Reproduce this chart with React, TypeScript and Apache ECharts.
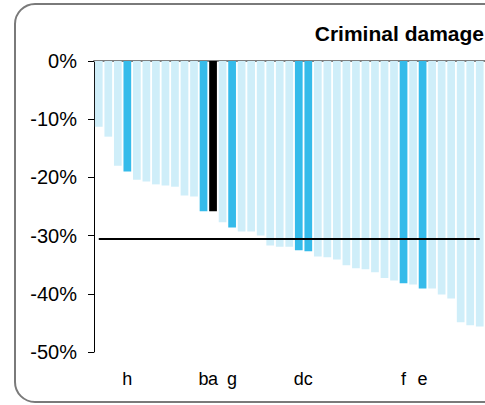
import React, { useEffect, useRef } from "react";
import * as echarts from "echarts";

const labels = ["", "", "", "h", "", "", "", "", "", "", "", "b", "a", "", "g", "", "", "", "", "", "", "d", "c", "", "", "", "", "", "", "", "", "", "f", "", "e", "", "", "", "", "", ""];
const values = [-11.3, -13.0, -18.0, -19.0, -20.4, -20.7, -21.2, -21.4, -21.6, -23.1, -23.3, -25.8, -25.8, -27.7, -28.6, -29.3, -29.3, -30.0, -31.7, -31.9, -31.9, -32.5, -32.7, -33.6, -33.7, -34.1, -35.1, -35.6, -35.8, -36.3, -37.3, -37.7, -38.2, -38.4, -39.1, -39.1, -40.1, -40.8, -44.9, -45.4, -45.6];
const highlighted = ["h", "b", "g", "d", "c", "f", "e"];
const emphasised = ["a"];
const average = -30.6;
const yTicks = [0, -10, -20, -30, -40, -50];
const title = "Criminal damage";

const FONT = "'Liberation Sans', Arial, sans-serif";

export default function App() {
  const ref = useRef<HTMLDivElement>(null);
  useEffect(() => {
    document.body.style.margin = "0";
    const chart = echarts.init(ref.current!, null, { renderer: "svg" });
    const data = values.map((v, i) => {
      const l = labels[i];
      let color = "#CFEEF9";
      if (highlighted.includes(l)) color = "#35BBEA";
      if (emphasised.includes(l)) color = "#000000";
      return { value: v, itemStyle: { color } };
    });
    chart.setOption({
      animation: false,
      graphic: [
        {
          type: "rect",
          shape: { x: 15, y: 4, width: 488, height: 398, r: 20 },
          style: { fill: "none", stroke: "#7a7a7a", lineWidth: 2 },
          z: -1,
        },
        {
          type: "text",
          right: 1,
          top: 23,
          style: {
            text: title,
            font: `bold 21px ${FONT}`,
            fill: "#000",
          },
        },
      ],
      grid: { left: 94, right: 0.5, top: 61, bottom: 53, containLabel: false },
      xAxis: [
        {
          type: "category",
          data: labels,
          position: "bottom",
          axisLine: { show: false },
          axisTick: { show: false },
          axisLabel: {
            interval: 0,
            margin: 18,
            color: "#000",
            fontSize: 18,
            fontFamily: FONT,
          },
        },
        {
          type: "category",
          data: labels,
          position: "top",
          axisLine: { show: true, lineStyle: { color: "#7f7f7f", width: 2 } },
          axisTick: { show: false },
          axisLabel: { show: false },
        },
      ],
      yAxis: {
        type: "value",
        min: yTicks[yTicks.length - 1],
        max: yTicks[0],
        interval: 10,
        axisLine: { show: true, lineStyle: { color: "#000", width: 1 } },
        axisTick: { show: true, length: 6, lineStyle: { color: "#000" } },
        splitLine: { show: false },
        axisLabel: {
          margin: 17,
          color: "#000",
          fontSize: 20,
          fontFamily: FONT,
          formatter: (v: number) => `${v}%`,
        },
      },
      series: [
        {
          type: "bar",
          data,
          xAxisIndex: 0,
          barCategoryGap: "19%",
          markLine: {
            silent: true,
            symbol: ["none", "none"],
            label: { show: false },
            lineStyle: { color: "#000", width: 2, type: "solid" },
            data: [[{ coord: [0, average] }, { coord: [values.length - 1, average] }]],
          },
        },
      ],
    });
    return () => chart.dispose();
  }, []);
  return <div ref={ref} style={{ width: 485, height: 405 }} />;
}
